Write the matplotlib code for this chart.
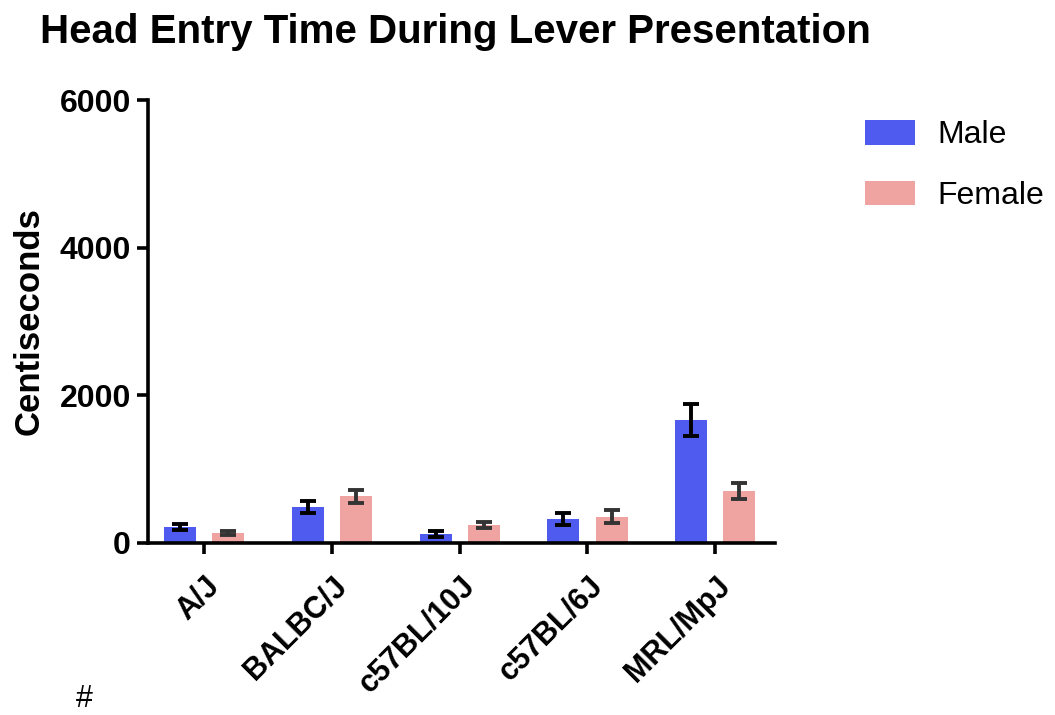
import numpy as np
import matplotlib.pyplot as plt

plt.rcParams['font.family'] = ['Liberation Sans', 'DejaVu Sans']

strains = ['A/J', 'BALBC/J', 'c57BL/10J', 'c57BL/6J', 'MRL/MpJ']
male_mean = [215, 485, 125, 327, 1665]
male_sem = [45, 80, 40, 77, 215]
female_mean = [135, 630, 240, 354, 703]
female_sem = [25, 90, 40, 90, 110]

blue = '#4f5bef'
pink = '#f0a4a2'

fig = plt.figure(figsize=(10.55, 7.15), dpi=100)
ax = fig.add_axes([0.140, 0.2406, 0.595, 0.6195])

x = np.arange(len(strains))
w = 0.25
off = 0.188
ax.bar(x - off, male_mean, w, color=blue, label='Male', zorder=2)
ax.bar(x + off, female_mean, w, color=pink, label='Female', zorder=2)
ax.errorbar(x - off, male_mean, yerr=male_sem, fmt='none', ecolor='black',
            elinewidth=2.8, capsize=5.5, capthick=2.8, zorder=3)
ax.errorbar(x + off, female_mean, yerr=female_sem, fmt='none', ecolor='#333333',
            elinewidth=2.8, capsize=5.5, capthick=2.8, zorder=3)

ax.set_xlim(-0.44, 4.47)
ax.set_ylim(0, 6000)
ax.set_yticks([0, 2000, 4000, 6000])
ax.set_xticks(x)
ax.set_xticklabels(strains, rotation=45, ha='right', rotation_mode='anchor',
                   fontsize=22, fontweight='bold')
for lab in ax.get_yticklabels():
    lab.set_fontsize(23)
    lab.set_fontweight('bold')

for s in ['top', 'right']:
    ax.spines[s].set_visible(False)
for s in ['left', 'bottom']:
    ax.spines[s].set_linewidth(2.6)
ax.tick_params(width=2.6, length=8)
ax.tick_params(axis='x', pad=12)
ax.tick_params(axis='y', pad=4)

ax.set_ylabel('Centiseconds', fontsize=25, fontweight='bold', labelpad=10)

fig.text(0.038, 0.955, 'Head Entry Time During Lever Presentation',
         fontsize=29, fontweight='bold', va='center', ha='left')

fig.legend(loc='upper left', bbox_to_anchor=(0.82, 0.832), frameon=False,
           fontsize=23, handlelength=1.56, handleheight=0.8, labelspacing=0.95,
           handletextpad=0.69, borderpad=0, borderaxespad=0)

fig.text(0.072, 0.022, '#', fontsize=22, ha='left', va='center')

fig.savefig('out.png', dpi=100)
